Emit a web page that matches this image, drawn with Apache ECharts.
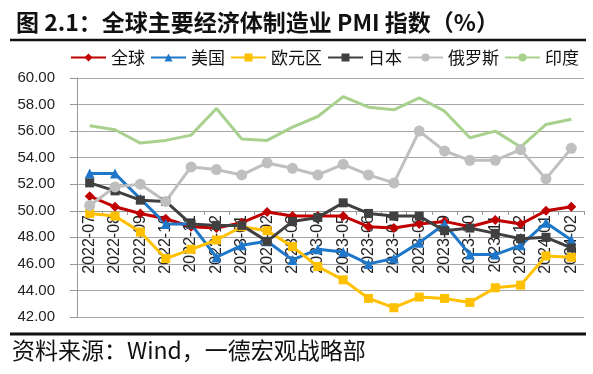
<!DOCTYPE html>
<html>
<head>
<meta charset="utf-8">
<script src="https://cdn.jsdelivr.net/npm/echarts@6/dist/echarts.min.js"></script>
<style>
html,body{margin:0;padding:0;background:#fff;}
#c{width:593px;height:374px;}
</style>
</head>
<body>
<div id="c"></div>
<script>
var months = ['2022-07','2022-08','2022-09','2022-10','2022-11','2022-12','2023-01','2023-02','2023-03','2023-04','2023-05','2023-06','2023-07','2023-08','2023-09','2023-10','2023-11','2023-12','2024-01','2024-02'];
var globalPMI = [51.1,50.3,49.8,49.4,48.8,48.7,49.1,49.9,49.6,49.6,49.6,48.8,48.7,49.0,49.2,48.8,49.3,49.0,50.0,50.3];
var usPMI     = [52.8,52.8,50.9,49.0,49.0,46.5,47.4,47.7,46.3,47.1,46.9,46.0,46.4,47.6,49.0,46.7,46.7,47.4,49.1,47.8];
var euroPMI   = [49.8,49.6,48.4,46.4,47.1,47.8,48.8,48.5,47.3,45.8,44.8,43.4,42.7,43.5,43.4,43.1,44.2,44.4,46.6,46.5];
var japanPMI  = [52.1,51.5,50.8,50.7,49.0,48.9,48.9,47.7,49.2,49.5,50.6,49.8,49.6,49.6,48.5,48.7,48.3,47.9,48.0,47.2];
var russiaPMI = [50.4,51.8,52.0,50.7,53.3,53.1,52.7,53.6,53.2,52.7,53.5,52.7,52.1,56.0,54.5,53.8,53.8,54.6,52.4,54.7];
var indiaPMI  = [56.4,56.1,55.1,55.3,55.7,57.7,55.4,55.3,56.3,57.1,58.6,57.8,57.6,58.5,57.5,55.5,56.0,54.8,56.5,56.9];
var yTicks = {min: 42, max: 60, interval: 2};
var titleText = '图 2.1：全球主要经济体制造业 PMI 指数（%）';
var sourceText = '资料来源：Wind，一德宏观战略部';

var chart = echarts.init(document.getElementById('c'), null, {renderer: 'canvas'});
var cjk = '"Noto Sans CJK SC", sans-serif';
var lat = 'Arial, "Liberation Sans", sans-serif';

function mk(name, data, color, symbol, size) {
  return {
    name: name, type: 'line', data: data,
    symbol: symbol, symbolSize: size, showSymbol: symbol !== 'none',
    lineStyle: {color: color, width: 3},
    itemStyle: {color: color},
    emphasis: {disabled: true},
    animation: false
  };
}

var option = {
  animation: false,
  title: {
    text: titleText, left: 11, top: 6,
    textStyle: {fontFamily: cjk, fontSize: 23, fontWeight: 'bold', color: '#111'}
  },
  legend: {
    left: 70, top: 49, width: 523, itemWidth: 35, itemHeight: 10, itemGap: 5, padding: 0,
    textStyle: {fontFamily: cjk, fontSize: 17, color: '#111'},
    data: ['全球','美国','欧元区','日本','俄罗斯','印度']
  },
  graphic: [
    {type: 'line', shape: {x1: 10, y1: 40, x2: 586, y2: 40}, style: {stroke: '#111', lineWidth: 2.5}},
    {type: 'line', shape: {x1: 10, y1: 334, x2: 586, y2: 334}, style: {stroke: '#111', lineWidth: 3}},
    {type: 'text', left: 12, top: 339, style: {text: sourceText, font: '23px ' + cjk, fill: '#111'}}
  ],
  grid: {left: 77, right: 9, top: 78, bottom: 57},
  xAxis: {
    type: 'category', data: months, boundaryGap: true,
    position: 'bottom', offset: -106,
    axisLine: {show: true, lineStyle: {color: '#999', width: 1}},
    axisTick: {show: true, length: 4, lineStyle: {color: '#999'}},
    axisLabel: {rotate: 90, interval: 0, fontFamily: lat, fontSize: 16, color: '#222', margin: 4},
    splitLine: {show: false}
  },
  yAxis: {
    type: 'value', min: yTicks.min, max: yTicks.max, interval: yTicks.interval,
    axisLine: {show: true, lineStyle: {color: '#999'}},
    axisTick: {show: true, length: 7, lineStyle: {color: '#999'}},
    axisLabel: {fontFamily: lat, fontSize: 15, color: '#222', margin: 22,
      formatter: function (v) { return v.toFixed(2); }},
    splitLine: {show: true, lineStyle: {color: '#a6a6a6', width: 1}}
  },
  series: [
    mk('全球', globalPMI, '#C00000', 'diamond', 10),
    mk('美国', usPMI, '#1F77C9', 'triangle', 10),
    mk('欧元区', euroPMI, '#FFC000', 'rect', 9),
    mk('日本', japanPMI, '#404040', 'rect', 9),
    mk('俄罗斯', russiaPMI, '#BFBFBF', 'circle', 11),
    mk('印度', indiaPMI, '#A9D18E', 'none', 0)
  ]
};
chart.setOption(option);
</script>
</body>
</html>
